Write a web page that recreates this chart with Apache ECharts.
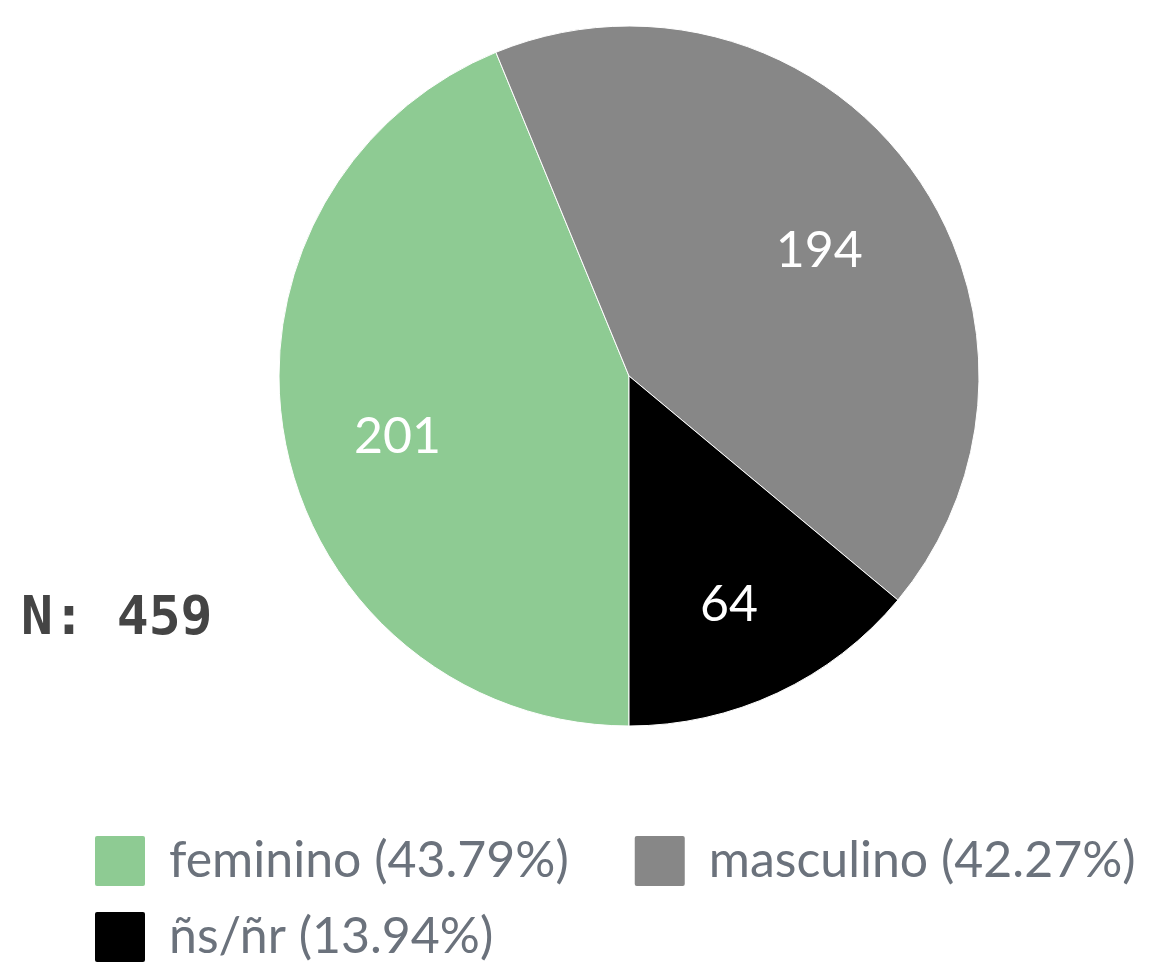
<!DOCTYPE html>
<html>
<head>
<meta charset="utf-8">
<script src="https://cdn.jsdelivr.net/npm/echarts@6/dist/echarts.min.js"></script>
<style>html,body{margin:0;padding:0;background:#fff}#c{width:1156px;height:964px}</style>
</head>
<body>
<div id="c"></div>
<script>
const categories = ['feminino', 'masculino', 'ñs/ñr'];
const values = [201, 194, 64];
const colors = ['#8ecb93', '#878787', '#000000'];
const totalLabel = 'N: 459';

const total = values.reduce((a, b) => a + b, 0);
const pct = {};
categories.forEach((c, i) => { pct[c] = (values[i] / total * 100).toFixed(2); });
const data = categories.map((c, i) => ({ name: c, value: values[i], itemStyle: { color: colors[i] } }));
const icon = 'path://M3,0 H49 Q52,0 52,3 V49 Q52,52 49,52 H3 Q0,52 0,49 V3 Q0,0 3,0 Z';
const legendBase = {
  orient: 'horizontal', icon: icon, itemWidth: 52, itemHeight: 52, itemGap: 64,
  selectedMode: false, padding: 0,
  formatter: n => n + ' (' + pct[n] + '%)',
  textStyle: { fontFamily: 'Lato', fontSize: 50, color: '#6b727c', padding: [0, 0, 0, 18] }
};
const chart = echarts.init(document.getElementById('c'), null, { renderer: 'canvas' });
chart.setOption({
  animation: false,
  backgroundColor: '#fff',
  legend: [
    Object.assign({}, legendBase, { left: 93, top: 834, data: [categories[0], categories[1]].map((c) => ({ name: c, itemStyle: { color: colors[categories.indexOf(c)] } })) }),
    Object.assign({}, legendBase, { left: 93, top: 910, data: [categories[2]].map((c) => ({ name: c, itemStyle: { color: colors[2] } })) })
  ],
  graphic: [{
    type: 'text', left: 21, top: 594,
    style: { text: totalLabel, font: 'bold 53px "DejaVu Sans Mono"', fill: '#444444' }
  }],
  series: [
    {
      type: 'pie', center: [629, 376], radius: [0, 350], startAngle: 270, clockwise: true,
      label: { show: false }, labelLine: { show: false },
      itemStyle: { borderColor: '#ffffff', borderWidth: 1 },
      emphasis: { disabled: true },
      data: data
    },
    {
      type: 'pie', center: [629, 376], radius: [0, 466], startAngle: 270, clockwise: true,
      silent: true, z: 5,
      itemStyle: { color: 'rgba(0,0,0,0)', borderWidth: 0 },
      label: { show: true, position: 'inside', formatter: '{c}', fontFamily: 'Lato', fontSize: 50, color: '#ffffff', offset: [0, 15] },
      labelLine: { show: false },
      emphasis: { disabled: true },
      data: categories.map((c, i) => ({ name: c, value: values[i] }))
    }
  ]
});
</script>
</body>
</html>
